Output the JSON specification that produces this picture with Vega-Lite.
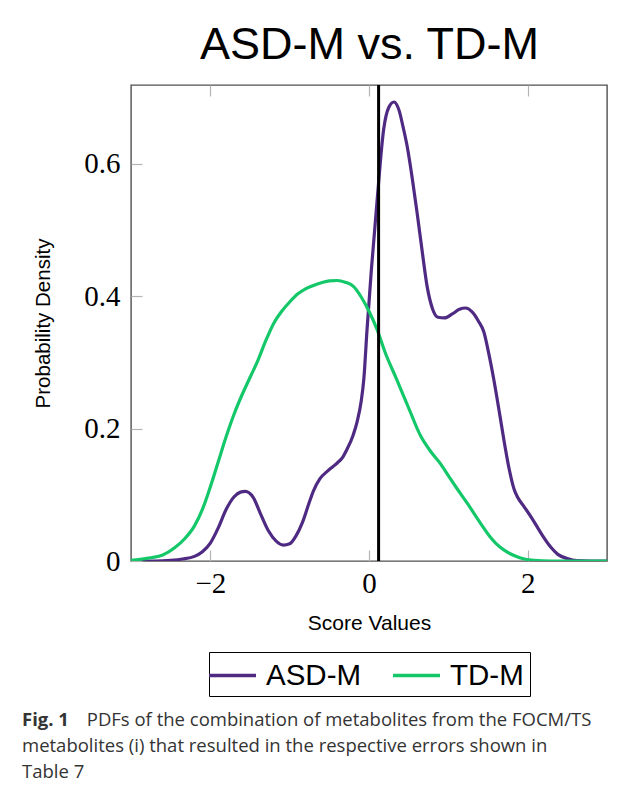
{
  "$schema": "https://vega.github.io/schema/vega-lite/v6.json",
  "autosize": "none",
  "width": 476,
  "height": 476,
  "padding": {"left": 131, "top": 85, "right": 22, "bottom": 232},
  "background": "white",
  "title": {
    "text": "Fig. 1",
    "subtitle": [
      "\u200b\u2003\u2003\u2003\u2002PDFs of the combination of metabolites from the FOCM/TS",
      "metabolites (i) that resulted in the respective errors shown in",
      "Table 7"
    ],
    "orient": "bottom",
    "anchor": "start",
    "frame": "group",
    "dx": -109,
    "offset": 14,
    "font": "Open Sans",
    "fontSize": 18.5,
    "fontWeight": "bold",
    "color": "#333333",
    "subtitleFont": "Open Sans",
    "subtitleFontSize": 18.5,
    "subtitleFontWeight": "normal",
    "subtitleColor": "#333333",
    "subtitleLineHeight": 26,
    "subtitlePadding": -18.5
  },
  "layer": [
    {
      "data": {
        "values": [
          {"series": "ASD-M", "score": -3.0, "density": 0},
          {"series": "ASD-M", "score": -2.7, "density": 0},
          {"series": "ASD-M", "score": -2.5, "density": 0.001},
          {"series": "ASD-M", "score": -2.35, "density": 0.003},
          {"series": "ASD-M", "score": -2.2, "density": 0.007},
          {"series": "ASD-M", "score": -2.1, "density": 0.014},
          {"series": "ASD-M", "score": -2.0, "density": 0.027},
          {"series": "ASD-M", "score": -1.9, "density": 0.05},
          {"series": "ASD-M", "score": -1.8, "density": 0.078},
          {"series": "ASD-M", "score": -1.7, "density": 0.097},
          {"series": "ASD-M", "score": -1.62, "density": 0.104},
          {"series": "ASD-M", "score": -1.56, "density": 0.105},
          {"series": "ASD-M", "score": -1.46, "density": 0.096},
          {"series": "ASD-M", "score": -1.37, "density": 0.072},
          {"series": "ASD-M", "score": -1.27, "density": 0.046},
          {"series": "ASD-M", "score": -1.17, "density": 0.03},
          {"series": "ASD-M", "score": -1.08, "density": 0.024},
          {"series": "ASD-M", "score": -1.0, "density": 0.026},
          {"series": "ASD-M", "score": -0.92, "density": 0.038},
          {"series": "ASD-M", "score": -0.84, "density": 0.058},
          {"series": "ASD-M", "score": -0.76, "density": 0.086},
          {"series": "ASD-M", "score": -0.7, "density": 0.106},
          {"series": "ASD-M", "score": -0.62, "density": 0.124},
          {"series": "ASD-M", "score": -0.52, "density": 0.136},
          {"series": "ASD-M", "score": -0.45, "density": 0.143},
          {"series": "ASD-M", "score": -0.4, "density": 0.148},
          {"series": "ASD-M", "score": -0.33, "density": 0.157},
          {"series": "ASD-M", "score": -0.28, "density": 0.168},
          {"series": "ASD-M", "score": -0.2, "density": 0.19},
          {"series": "ASD-M", "score": -0.15, "density": 0.21},
          {"series": "ASD-M", "score": -0.1, "density": 0.24},
          {"series": "ASD-M", "score": -0.065, "density": 0.275},
          {"series": "ASD-M", "score": -0.025, "density": 0.349},
          {"series": "ASD-M", "score": 0.03, "density": 0.44},
          {"series": "ASD-M", "score": 0.1, "density": 0.541},
          {"series": "ASD-M", "score": 0.185, "density": 0.652},
          {"series": "ASD-M", "score": 0.25, "density": 0.685},
          {"series": "ASD-M", "score": 0.315, "density": 0.693},
          {"series": "ASD-M", "score": 0.38, "density": 0.68},
          {"series": "ASD-M", "score": 0.43, "density": 0.655},
          {"series": "ASD-M", "score": 0.48, "density": 0.627},
          {"series": "ASD-M", "score": 0.545, "density": 0.578},
          {"series": "ASD-M", "score": 0.606, "density": 0.526},
          {"series": "ASD-M", "score": 0.67, "density": 0.468},
          {"series": "ASD-M", "score": 0.732, "density": 0.415},
          {"series": "ASD-M", "score": 0.8, "density": 0.381},
          {"series": "ASD-M", "score": 0.87, "density": 0.368},
          {"series": "ASD-M", "score": 0.95, "density": 0.367},
          {"series": "ASD-M", "score": 1.05, "density": 0.373},
          {"series": "ASD-M", "score": 1.14, "density": 0.38},
          {"series": "ASD-M", "score": 1.216, "density": 0.382},
          {"series": "ASD-M", "score": 1.3, "density": 0.376},
          {"series": "ASD-M", "score": 1.38, "density": 0.362},
          {"series": "ASD-M", "score": 1.447, "density": 0.346},
          {"series": "ASD-M", "score": 1.51, "density": 0.313},
          {"series": "ASD-M", "score": 1.573, "density": 0.274},
          {"series": "ASD-M", "score": 1.64, "density": 0.227},
          {"series": "ASD-M", "score": 1.7, "density": 0.183},
          {"series": "ASD-M", "score": 1.77, "density": 0.137},
          {"series": "ASD-M", "score": 1.83, "density": 0.108},
          {"series": "ASD-M", "score": 1.87, "density": 0.097},
          {"series": "ASD-M", "score": 1.95, "density": 0.083},
          {"series": "ASD-M", "score": 2.04, "density": 0.067},
          {"series": "ASD-M", "score": 2.12, "density": 0.0515},
          {"series": "ASD-M", "score": 2.2, "density": 0.036},
          {"series": "ASD-M", "score": 2.29, "density": 0.021},
          {"series": "ASD-M", "score": 2.38, "density": 0.01},
          {"series": "ASD-M", "score": 2.5, "density": 0.0036},
          {"series": "ASD-M", "score": 2.62, "density": 0.0005},
          {"series": "ASD-M", "score": 2.8, "density": 0},
          {"series": "ASD-M", "score": 3.0, "density": 0},
          {"series": "TD-M", "score": -3.0, "density": 0.001},
          {"series": "TD-M", "score": -2.8, "density": 0.004},
          {"series": "TD-M", "score": -2.6, "density": 0.009},
          {"series": "TD-M", "score": -2.45, "density": 0.02},
          {"series": "TD-M", "score": -2.32, "density": 0.034},
          {"series": "TD-M", "score": -2.2, "density": 0.053},
          {"series": "TD-M", "score": -2.1, "density": 0.078},
          {"series": "TD-M", "score": -2.0, "density": 0.112},
          {"series": "TD-M", "score": -1.9, "density": 0.15},
          {"series": "TD-M", "score": -1.8, "density": 0.188},
          {"series": "TD-M", "score": -1.7, "density": 0.222},
          {"series": "TD-M", "score": -1.6, "density": 0.251},
          {"series": "TD-M", "score": -1.5, "density": 0.277},
          {"series": "TD-M", "score": -1.4, "density": 0.303},
          {"series": "TD-M", "score": -1.3, "density": 0.333},
          {"series": "TD-M", "score": -1.2, "density": 0.359},
          {"series": "TD-M", "score": -1.1, "density": 0.377},
          {"series": "TD-M", "score": -1.0, "density": 0.391},
          {"series": "TD-M", "score": -0.9, "density": 0.403},
          {"series": "TD-M", "score": -0.8, "density": 0.411},
          {"series": "TD-M", "score": -0.7, "density": 0.416},
          {"series": "TD-M", "score": -0.6, "density": 0.42},
          {"series": "TD-M", "score": -0.5, "density": 0.423},
          {"series": "TD-M", "score": -0.4, "density": 0.4235},
          {"series": "TD-M", "score": -0.3, "density": 0.421},
          {"series": "TD-M", "score": -0.2, "density": 0.415},
          {"series": "TD-M", "score": -0.1, "density": 0.399},
          {"series": "TD-M", "score": 0.0, "density": 0.377},
          {"series": "TD-M", "score": 0.1, "density": 0.35},
          {"series": "TD-M", "score": 0.2, "density": 0.316},
          {"series": "TD-M", "score": 0.35, "density": 0.274},
          {"series": "TD-M", "score": 0.5, "density": 0.231},
          {"series": "TD-M", "score": 0.65, "density": 0.189},
          {"series": "TD-M", "score": 0.78, "density": 0.165},
          {"series": "TD-M", "score": 0.9, "density": 0.147},
          {"series": "TD-M", "score": 1.0, "density": 0.129},
          {"series": "TD-M", "score": 1.1, "density": 0.111},
          {"series": "TD-M", "score": 1.24, "density": 0.087},
          {"series": "TD-M", "score": 1.4, "density": 0.058},
          {"series": "TD-M", "score": 1.53, "density": 0.036},
          {"series": "TD-M", "score": 1.65, "density": 0.021},
          {"series": "TD-M", "score": 1.78, "density": 0.011},
          {"series": "TD-M", "score": 1.9, "density": 0.005},
          {"series": "TD-M", "score": 2.08, "density": 0.001},
          {"series": "TD-M", "score": 2.3, "density": 0},
          {"series": "TD-M", "score": 3.0, "density": 0}
        ]
      },
      "mark": {"type": "line", "interpolate": "monotone", "strokeWidth": 3.2, "strokeCap": "round", "clip": true},
      "encoding": {
        "x": {
          "field": "score",
          "type": "quantitative",
          "scale": {"domain": [-3, 3], "nice": false, "zero": false},
          "axis": {
            "orient": "bottom",
            "title": "Score Values",
            "values": [-2, 0, 2],
            "domain": false,
            "grid": false,
            "ticks": true,
            "tickSize": -11,
            "tickColor": "#b4b4b4",
            "tickWidth": 1.2,
            "labelFont": "Liberation Serif",
            "labelFontSize": 29,
            "labelColor": "#000000",
            "labelPadding": 19,
            "labelFlush": false,
            "titleFont": "Liberation Sans",
            "titleFontSize": 21,
            "titleFontWeight": "normal",
            "titleColor": "#000000",
            "titlePadding": 14
          }
        },
        "y": {
          "field": "density",
          "type": "quantitative",
          "scale": {"domain": [0, 0.7187], "nice": false},
          "axis": {
            "title": "Probability Density",
            "values": [0, 0.2, 0.4, 0.6],
            "labelExpr": "datum.value == 0 ? '0' : format(datum.value, '.1f')",
            "domain": false,
            "grid": false,
            "tickSize": -11,
            "tickColor": "#b4b4b4",
            "tickWidth": 1.2,
            "labelFont": "Liberation Serif",
            "labelFontSize": 29,
            "labelColor": "#000000",
            "labelPadding": 22,
            "labelFlush": false,
            "titleFont": "Liberation Sans",
            "titleFontSize": 20.5,
            "titleFontWeight": "normal",
            "titleColor": "#000000",
            "titlePadding": 30
          }
        },
        "color": {
          "field": "series",
          "type": "nominal",
          "scale": {"domain": ["ASD-M", "TD-M"], "range": ["#4f2a83", "#14c86a"]},
          "legend": {
            "title": null,
            "orient": "bottom",
            "direction": "horizontal",
            "symbolType": "M-1.5,0H1.5",
            "symbolSize": 981,
            "symbolStrokeWidth": 3.5,
            "symbolFillColor": "transparent",
            "labelFont": "Liberation Sans",
            "labelFontSize": 29.5,
            "labelColor": "#000000",
            "labelOffset": 16,
            "columnPadding": 24,
            "padding": 6,
            "offset": 19,
            "strokeColor": "#000000",
            "fillColor": "#ffffff"
          }
        }
      }
    },
    {
      "data": {"values": [{"threshold": 0.121}]},
      "mark": {"type": "rule", "color": "#000000", "strokeWidth": 3},
      "encoding": {
        "x": {
          "field": "threshold",
          "type": "quantitative",
          "scale": {"domain": [-3, 3], "nice": false, "zero": false},
          "axis": {
            "orient": "top",
            "title": "ASD-M vs. TD-M",
            "values": [-2, 0, 2],
            "labels": false,
            "domain": false,
            "grid": false,
            "tickSize": -11,
            "tickColor": "#b4b4b4",
            "tickWidth": 1.2,
            "titleFont": "Liberation Sans",
            "titleFontSize": 45,
            "titleFontWeight": "normal",
            "titleColor": "#000000",
            "titlePadding": 17
          }
        }
      }
    }
  ],
  "resolve": {"axis": {"x": "independent"}},
  "config": {
    "view": {"stroke": "#505050", "strokeWidth": 1.4},
    "legend": {"layout": {"bottom": {"anchor": "middle"}}}
  }
}
